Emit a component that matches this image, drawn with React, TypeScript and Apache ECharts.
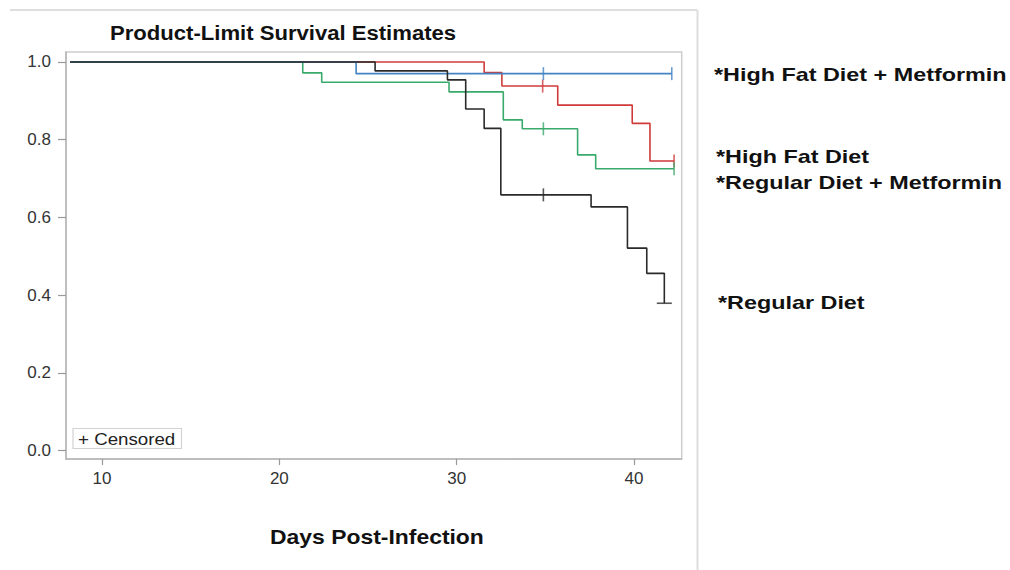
import React, { useEffect, useRef } from "react";
import * as echarts from "echarts";

// ---- Data ----
const START_DAY = 8.2;

const regularTimes = [25.4, 29.48, 30.51, 31.55, 32.49, 37.58, 39.63, 40.72, 41.71];
const regularSurv = [0.977, 0.954, 0.879, 0.829, 0.658, 0.627, 0.521, 0.456, 0.379];
const regularEnd = 41.71;
const regularCensor = [34.89];
const regularCensorFinal = [41.71];

const highFatTimes = [31.55, 32.55, 35.7, 39.9, 40.9];
const highFatSurv = [0.973, 0.938, 0.889, 0.842, 0.745];
const highFatEnd = 42.26;
const highFatCensor = [34.85, 42.26];

const hfMetTimes = [24.33];
const hfMetSurv = [0.97];
const hfMetEnd = 42.13;
const hfMetCensor = [34.89, 42.13];

const regMetTimes = [21.32, 22.39, 29.57, 32.63, 33.7, 36.82, 37.84];
const regMetSurv = [0.972, 0.948, 0.923, 0.851, 0.828, 0.761, 0.725];
const regMetEnd = 42.26;
const regMetCensor = [34.89, 42.26];

const xTicks = [10, 20, 30, 40];
const yTicks = [0, 0.2, 0.4, 0.6, 0.8, 1.0];

const groupLabels = [
  "*High Fat Diet + Metformin",
  "*High Fat Diet",
  "*Regular Diet + Metformin",
  "*Regular Diet",
];

const FONT = '"Liberation Sans", Arial, Helvetica, sans-serif';

function stepPoints(times: number[], surv: number[], end: number) {
  const pts: number[][] = [[START_DAY, 1]];
  let prev = 1;
  times.forEach((t, i) => {
    pts.push([t, prev]);
    pts.push([t, surv[i]]);
    prev = surv[i];
  });
  const last = pts[pts.length - 1][0];
  if (end > last) pts.push([end, prev]);
  return pts;
}

function survAt(times: number[], surv: number[], t: number) {
  let s = 1;
  times.forEach((tt, i) => {
    if (tt <= t) s = surv[i];
  });
  return s;
}

export default function App() {
  const ref = useRef<HTMLDivElement>(null);

  useEffect(() => {
    document.body.style.margin = "0";
    if (!ref.current) return;
    const chart = echarts.init(ref.current, undefined, { renderer: "svg" });

    const groups = [
      { name: groupLabels[1], times: highFatTimes, surv: highFatSurv, end: highFatEnd, censor: highFatCensor, color: "#cf3b3b" },
      { name: groupLabels[2], times: regMetTimes, surv: regMetSurv, end: regMetEnd, censor: regMetCensor, color: "#3aaa6c" },
      { name: groupLabels[0], times: hfMetTimes, surv: hfMetSurv, end: hfMetEnd, censor: hfMetCensor, color: "#4484c4" },
      { name: groupLabels[3], times: regularTimes, surv: regularSurv, end: regularEnd, censor: regularCensor, color: "#2a2a2a" },
    ];

    const series: any[] = [];
    groups.forEach((g) => {
      series.push({
        type: "line",
        name: g.name,
        data: stepPoints(g.times, g.surv, g.end),
        showSymbol: false,
        symbol: "none",
        lineStyle: { color: g.color, width: 1.6 },
        itemStyle: { color: g.color },
        silent: true,
      });
      series.push({
        type: "scatter",
        name: g.name + " censored",
        data: g.censor.map((t) => [t, survAt(g.times, g.surv, t)]),
        symbol: "rect",
        symbolSize: [1.6, 13],
        itemStyle: { color: g.color },
        silent: true,
      });
    });
    series.push({
      type: "scatter",
      name: groupLabels[3] + " final",
      data: regularCensorFinal.map((t) => [t, survAt(regularTimes, regularSurv, t)]),
      symbol: "rect",
      symbolSize: [15, 1.6],
      itemStyle: { color: "#2a2a2a" },
      silent: true,
    });

    const txt = (text: string, x: number, y: number, size: number, weight: string, scaleX: number, color = "#111") => ({
      type: "text",
      x,
      y,
      scaleX,
      silent: true,
      style: {
        text,
        fontSize: size,
        fontWeight: weight,
        fontFamily: FONT,
        fill: color,
        textAlign: "left",
        textVerticalAlign: "middle",
        align: "left",
        verticalAlign: "middle",
      },
    });

    chart.setOption({
      animation: false,
      backgroundColor: "#ffffff",
      grid: {
        left: 66,
        right: 1010 - 681.7,
        top: 52,
        bottom: 570 - 459,
        show: true,
        borderColor: "#cdcdcd",
        borderWidth: 1.5,
        backgroundColor: "transparent",
      },
      xAxis: {
        type: "value",
        min: 7.97,
        max: 42.69,
        axisLine: { show: true, onZero: false, lineStyle: { color: "#b4b4b4", width: 1.5 } },
        axisTick: { show: true, length: 6, customValues: xTicks, lineStyle: { color: "#9a9a9a", width: 1.2 } },
        axisLabel: {
          customValues: xTicks,
          fontSize: 17,
          fontFamily: FONT,
          color: "#333",
          margin: 11,
        },
        splitLine: { show: false },
      },
      yAxis: {
        type: "value",
        min: -0.0219,
        max: 1.0257,
        axisLine: { show: true, onZero: false, lineStyle: { color: "#b4b4b4", width: 1.5 } },
        axisTick: { show: true, length: 8, customValues: yTicks, lineStyle: { color: "#9a9a9a", width: 1.2 } },
        axisLabel: {
          customValues: yTicks,
          formatter: (v: number) => v.toFixed(1),
          fontSize: 17,
          fontFamily: FONT,
          color: "#333",
          margin: 15,
        },
        splitLine: { show: false },
      },
      series,
      graphic: {
        elements: [
          { type: "line", shape: { x1: 10, y1: 10, x2: 697.5, y2: 10 }, style: { stroke: "#dedede", lineWidth: 2 }, silent: true },
          { type: "line", shape: { x1: 697.5, y1: 10, x2: 697.5, y2: 570 }, style: { stroke: "#dedede", lineWidth: 2 }, silent: true },
          txt("Product-Limit Survival Estimates", 110, 33, 20, "bold", 1.105),
          txt("Days Post-Infection", 270, 537, 20, "bold", 1.146),
          {
            type: "rect",
            shape: { x: 73, y: 428.5, width: 108.5, height: 20 },
            style: { fill: "#ffffff", stroke: "#d2d2d2", lineWidth: 1.2 },
            silent: true,
          },
          txt("+ Censored", 78, 439, 16, "normal", 1.17, "#222"),
          txt(groupLabels[0], 714, 75, 19, "bold", 1.23),
          txt(groupLabels[1], 716, 157, 19, "bold", 1.23),
          txt(groupLabels[2], 716, 183, 19, "bold", 1.23),
          txt(groupLabels[3], 718, 303, 19, "bold", 1.23),
        ],
      },
    });

    return () => chart.dispose();
  }, []);

  return <div ref={ref} style={{ width: 1010, height: 570 }} />;
}
